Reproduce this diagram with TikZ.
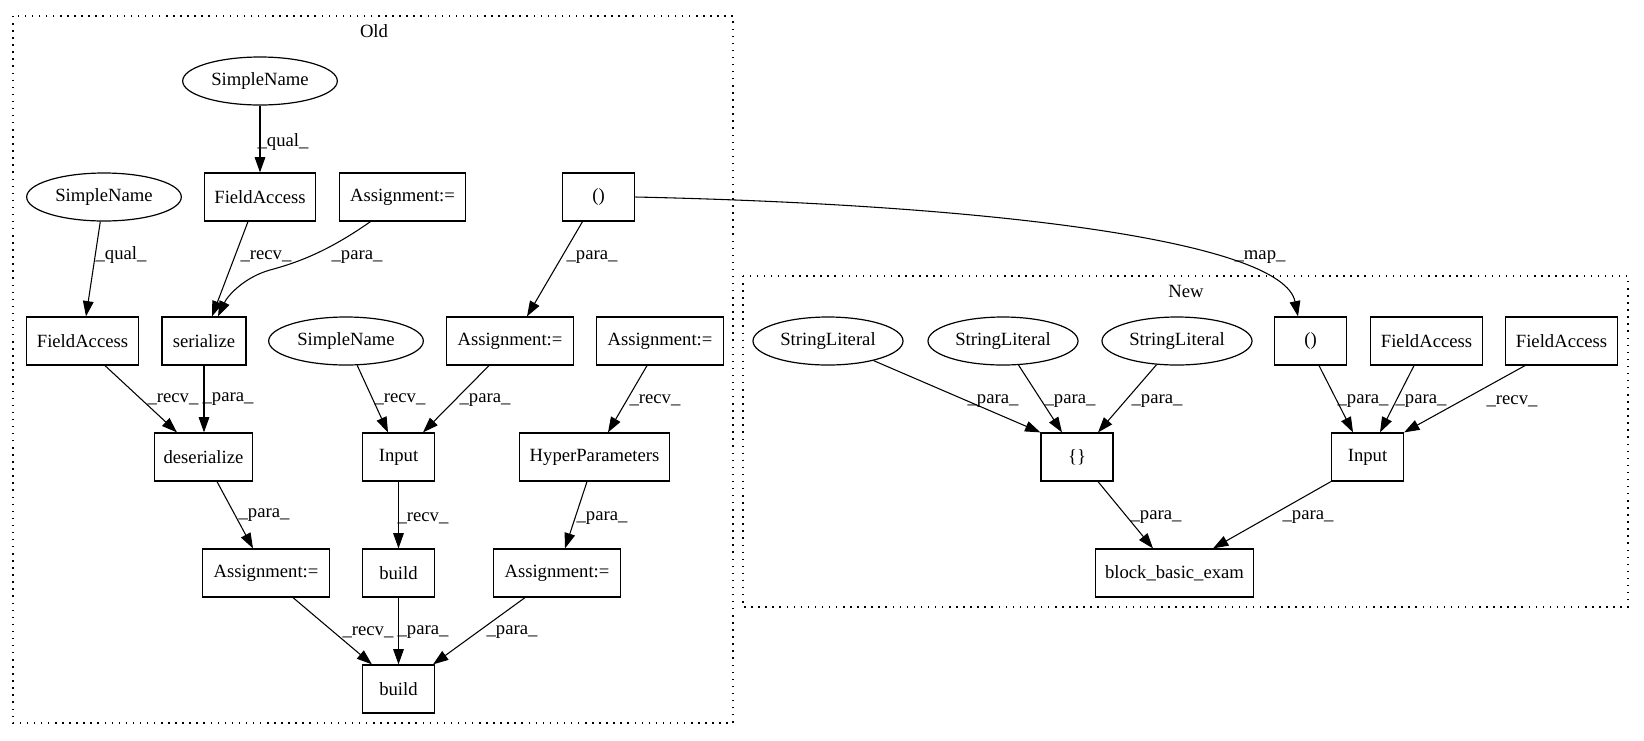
\documentclass[tikz,border=0pt]{standalone}
\usepackage{fontspec}
\setmainfont{Liberation Serif}
\usetikzlibrary{shapes.geometric,arrows.meta,calc}
\begin{document}
\begin{tikzpicture}[x=0.75pt,y=-0.75pt,
  every node/.style={font=\fontsize{14pt}{16pt}\selectfont},
  bx/.style={draw, rectangle, minimum height=36pt, inner sep=0pt, line width=0.9pt},
  el/.style={draw, ellipse, minimum height=36pt, minimum width=116pt, inner sep=0pt, line width=0.9pt},
  cl/.style={draw, dash pattern=on 1.1pt off 4.2pt, line width=1.1pt},
  conn/.style={draw, line width=0.8pt, -{Triangle[length=11.5pt,width=8pt]}},
  lbl/.style={inner sep=0pt}]
\useasboundingbox (0,0) rectangle (1644,740);
% clusters
\draw[cl] (13,16) rectangle (733,723);
\draw[cl] (743,276) rectangle (1628,607);
\node (oldlbl) at (374,31) {Old};
\node (newlbl) at (1186,291) {New};
% Old nodes
\node[el] (sn1) at (260,81) {SimpleName};
\node[bx, minimum width=83.5pt] (fa1) at (260,197) {FieldAccess};
\node[bx, minimum width=95pt] (as1) at (402.5,197) {Assignment:=};
\node[bx, minimum width=54.5pt] (po) at (598.5,197) {()};
\node[el] (sn2) at (104,197) {SimpleName};
\node[bx, minimum width=83.5pt] (fa2) at (82.5,341) {FieldAccess};
\node[bx, minimum width=63pt] (ser) at (204,341) {serialize};
\node[el] (sn3) at (346,341) {SimpleName};
\node[bx, minimum width=95pt] (as2) at (510,341) {Assignment:=};
\node[bx, minimum width=95pt] (as3) at (660,341) {Assignment:=};
\node[bx, minimum width=74pt] (deser) at (203.5,457) {deserialize};
\node[bx, minimum width=54.5pt] (inp) at (398.5,457) {Input};
\node[bx, minimum width=112pt] (hyp) at (594.5,457) {HyperParameters};
\node[bx, minimum width=95pt] (as4) at (266,573) {Assignment:=};
\node[bx, minimum width=54.5pt] (b1) at (398.5,573) {build};
\node[bx, minimum width=95pt] (as5) at (557,573) {Assignment:=};
\node[bx, minimum width=54.5pt] (b2) at (398.5,689) {build};
% New nodes
\node[el, minimum width=112.5pt] (sl1) at (828,341) {StringLiteral};
\node[el, minimum width=112.5pt] (sl2) at (1003,341) {StringLiteral};
\node[el, minimum width=112.5pt] (sl3) at (1177,341) {StringLiteral};
\node[bx, minimum width=54.5pt] (np) at (1310.5,341) {()};
\node[bx, minimum width=83.5pt] (nfa1) at (1426.5,341) {FieldAccess};
\node[bx, minimum width=83.5pt] (nfa2) at (1561.5,341) {FieldAccess};
\node[bx, minimum width=54pt] (br) at (1077,457) {\{\}};
\node[bx, minimum width=54pt] (ninp) at (1367.5,457) {Input};
\node[bx, minimum width=118pt] (blk) at (1174.5,573) {block\_basic\_exam};
% Old edges
\draw[conn] (sn1) -- (fa1);
\draw[conn] (sn2) -- ($(fa2.north)+(3.5,0)$);
\draw[conn] ($(fa1.south)+(-12,0)$) -- ($(ser.north)+(8,0)$);
\draw[conn] ($(as1.south)+(-32,0)$) .. controls (330,250) and (300,262) .. (270,270) .. controls (245,277) and (228,295) .. ($(ser.north)+(14,0)$);
\draw[conn] ($(po.south)+(-16,0)$) -- ($(as2.north)+(17,0)$);
\draw[conn] (ser.south) -- (ser.south |- deser.north);
\draw[conn] ($(fa2.south)+(22.5,0)$) -- ($(deser.north)+(-26.5,0)$);
\draw[conn] (sn3) -- ($(inp.north)+(-10.5,0)$);
\draw[conn] ($(as2.south)+(-21,0)$) -- ($(inp.north)+(24.5,0)$);
\draw[conn] ($(as3.south)+(-13,0)$) -- ($(hyp.north)+(13.5,0)$);
\draw[conn] ($(deser.south)+(13.5,0)$) -- ($(as4.north)+(-13,0)$);
\draw[conn] (inp.south) -- (b1.north);
\draw[conn] ($(hyp.south)+(-7.5,0)$) -- ($(as5.north)+(8,0)$);
\draw[conn] ($(as4.south)+(27,0)$) -- ($(b2.north)+(-26.5,0)$);
\draw[conn] (b1.south) -- (b2.north);
\draw[conn] ($(as5.south)+(-32,0)$) -- ($(b2.north)+(34.5,0)$);
% map edge
\draw[conn] (po.east) .. controls (1000,205) and (1283,242) .. ($(np.north)+(-12.5,0)$);
% New edges
\draw[conn] (sl1) -- (br.north west);
\draw[conn] (sl2) -- ($(br.north)+(-15,0)$);
\draw[conn] (sl3) -- ($(br.north)+(21,0)$);
\draw[conn] ($(np.south)+(8.5,0)$) -- ($(ninp.north)+(-14.5,0)$);
\draw[conn] ($(nfa1.south)+(-12.5,0)$) -- ($(ninp.north)+(12.5,0)$);
\draw[conn] ($(nfa2.south)+(-36.5,0)$) -- (ninp.north east);
\draw[conn] ($(br.south)+(21,0)$) -- ($(blk.north)+(-21.5,0)$);
\draw[conn] (ninp.south west) -- ($(blk.north)+(38.5,0)$);
% edge labels
\node[lbl] (l1) at (283,142) {\_qual\_};
\node[lbl] (l2) at (121,255) {\_qual\_};
\node[lbl] (l3) at (266,256) {\_recv\_};
\node[lbl] (l4) at (357,257) {\_para\_};
\node[lbl] (l5) at (592,257) {\_para\_};
\node[lbl] (l6) at (173,399) {\_recv\_};
\node[lbl] (l7) at (228,399) {\_para\_};
\node[lbl] (l8) at (400,399) {\_recv\_};
\node[lbl] (l9) at (485,400) {\_para\_};
\node[lbl] (l10) at (655,400) {\_recv\_};
\node[lbl] (l11) at (264,515) {\_para\_};
\node[lbl] (l12) at (423,518) {\_recv\_};
\node[lbl] (l13) at (602,518) {\_para\_};
\node[lbl] (l14) at (368,632) {\_recv\_};
\node[lbl] (l15) at (423,632) {\_para\_};
\node[lbl] (l16) at (512,632) {\_para\_};
\node[lbl] (l17) at (1260,257) {\_map\_};
\node[lbl] (l18) at (993,401) {\_para\_};
\node[lbl] (l19) at (1070,401) {\_para\_};
\node[lbl] (l20) at (1157,401) {\_para\_};
\node[lbl] (l21) at (1363,401) {\_para\_};
\node[lbl] (l22) at (1421,401) {\_para\_};
\node[lbl] (l23) at (1512,401) {\_recv\_};
\node[lbl] (l24) at (1156,517) {\_para\_};
\node[lbl] (l25) at (1308,517) {\_para\_};
\end{tikzpicture}
\end{document}
